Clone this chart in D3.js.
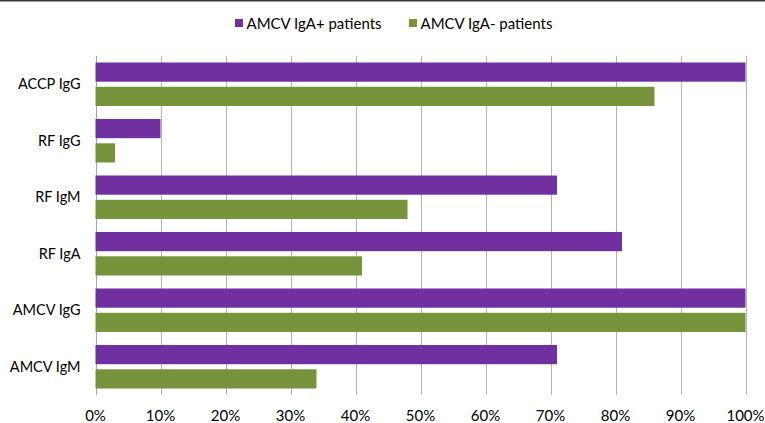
<!DOCTYPE html>
<html lang="en">
<head>
	<meta charset="UTF-8">
	<title>AMCV IgA</title>
	<script src="https://cdn.jsdelivr.net/npm/d3@7"></script>
	<style>
		body { margin: 0; background: #fff; overflow: hidden; }
		text { font-family: Lato, "Open Sans", sans-serif; fill: #000; }
	</style>
</head>
<body>
	<svg id="svg"></svg>
	<script>
		var categories = ["ACCP IgG", "RF IgG", "RF IgM", "RF IgA", "AMCV IgG", "AMCV IgM"];
		var seriesNames = ["AMCV IgA+ patients", "AMCV IgA- patients"];
		var posValues = [100, 10, 71, 81, 100, 71];
		var negValues = [86, 3, 48, 41, 100, 34];
		var ticks = [0, 10, 20, 30, 40, 50, 60, 70, 80, 90, 100];
		var colors = ["#7030a0", "#77933c"];

		var w = 765, h = 423,
			svg = d3.select("#svg").attr("width", w).attr("height", h);

		var x = d3.scaleLinear().domain([0, 100]).range([95.5, 745.5]);
		var y = d3.scaleBand().domain(categories).range([56, 395]).paddingInner(0).paddingOuter(0);
		var sub = d3.scaleBand().domain([0, 1]).range([6.5, y.bandwidth() - 6.5]).paddingInner(0.21);

		// top border
		svg.append("line").attr("x1", 0).attr("x2", w).attr("y1", 0.5).attr("y2", 0.5)
			.attr("stroke", "#3a3a3a").attr("stroke-width", 2);

		// gridlines
		svg.append("g").selectAll("line").data(ticks).enter().append("line")
			.attr("x1", function(d) { return Math.round(x(d)) + 0.5; })
			.attr("x2", function(d) { return Math.round(x(d)) + 0.5; })
			.attr("y1", 56).attr("y2", 395)
			.attr("stroke", function(d) { return d === 0 ? "#a6a6a6" : "#b4b4b4"; })
			.attr("stroke-width", 1);

		var rows = categories.map(function(c, i) {
			return { cat: c, vals: [posValues[i], negValues[i]] };
		});

		var g = svg.append("g").selectAll("g.row").data(rows).enter().append("g")
			.attr("class", "row")
			.attr("transform", function(d) { return "translate(0," + y(d.cat) + ")"; });

		g.selectAll("rect").data(function(d) { return d.vals; }).enter().append("rect")
			.attr("x", x(0))
			.attr("y", function(d, i) { return sub(i); })
			.attr("width", function(d) { return x(d) - x(0); })
			.attr("height", sub.bandwidth())
			.attr("fill", function(d, i) { return colors[i]; });

		// category labels
		g.append("text")
			.attr("x", 80.5)
			.attr("y", y.bandwidth() / 2)
			.attr("dy", "0.35em")
			.attr("text-anchor", "end")
			.style("font-size", "14.5px")
			.text(function(d) { return d.cat; });

		// x tick labels
		svg.append("g").selectAll("text").data(ticks).enter().append("text")
			.attr("x", function(d) { return x(d); })
			.attr("y", 416)
			.attr("dy", "0.35em")
			.attr("text-anchor", "middle")
			.style("font-size", "15px")
			.text(function(d) { return d + "%"; });

		// legend
		var legX = [235, 409];
		var leg = svg.append("g").selectAll("g").data(seriesNames).enter().append("g")
			.attr("transform", function(d, i) { return "translate(" + legX[i] + ",0)"; });
		leg.append("rect").attr("x", 0).attr("y", 19).attr("width", 8).attr("height", 8)
			.attr("fill", function(d, i) { return colors[i]; });
		leg.append("text").attr("x", 11.5).attr("y", 23.5).attr("dy", "0.35em")
			.style("font-size", "15px")
			.text(function(d) { return d; });
	</script>
</body>
</html>
